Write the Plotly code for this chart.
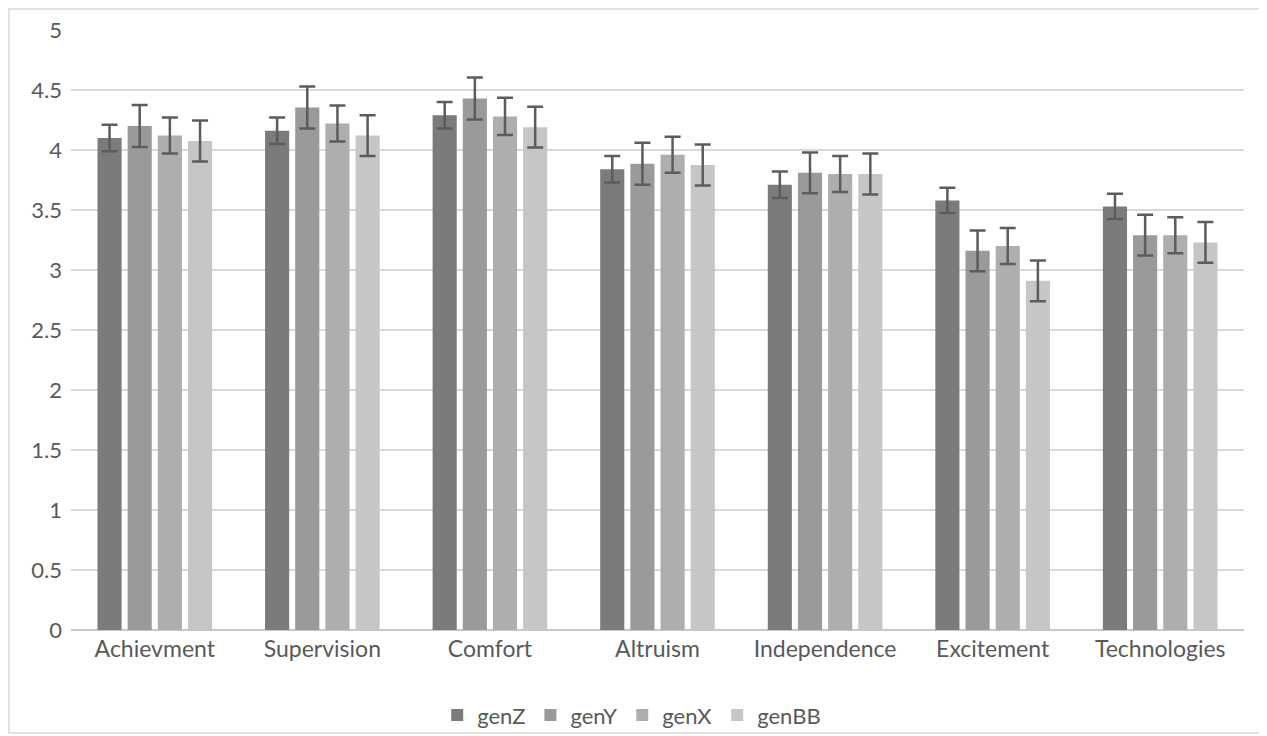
import plotly.graph_objects as go

categories = ["Achievment", "Supervision", "Comfort", "Altruism", "Independence", "Excitement", "Technologies"]
series_names = ["genZ", "genY", "genX", "genBB"]

genZ = [4.10, 4.16, 4.29, 3.84, 3.71, 3.58, 3.53]
genY = [4.20, 4.355, 4.43, 3.885, 3.81, 3.16, 3.29]
genX = [4.12, 4.22, 4.28, 3.96, 3.80, 3.20, 3.29]
genBB = [4.075, 4.12, 4.19, 3.875, 3.80, 2.91, 3.23]

err_genZ = [0.11, 0.11, 0.11, 0.11, 0.11, 0.105, 0.105]
err_genY = [0.175, 0.175, 0.175, 0.175, 0.17, 0.17, 0.17]
err_genX = [0.15, 0.15, 0.155, 0.15, 0.15, 0.15, 0.15]
err_genBB = [0.17, 0.17, 0.17, 0.17, 0.17, 0.17, 0.17]

colors = ["#7b7b7e", "#9a9a9d", "#aeaeb0", "#c6c6c8"]
values = [genZ, genY, genX, genBB]
errors = [err_genZ, err_genY, err_genX, err_genBB]

fig = go.Figure()
for name, vals, errs, col in zip(series_names, values, errors, colors):
    fig.add_trace(go.Bar(
        x=categories, y=vals, name=name, marker_color=col, marker_line_width=0,
        error_y=dict(type="data", array=errs, visible=True, color="#5c5c5e", thickness=2.5, width=8),
    ))

font_family = "Lato, 'Open Sans', sans-serif"
W, H = 1259, 728
L, R, T, B = 63, 23, 22, 106
pw, ph = W - L - R, H - T - B
fig.update_layout(
    barmode="group", bargap=0.28, bargroupgap=0.2,
    width=W, height=H,
    margin=dict(l=L, r=R, t=T, b=B, autoexpand=False),
    paper_bgcolor="white", plot_bgcolor="white",
    font=dict(family=font_family, size=20, color="#595959"),
    showlegend=True,
    legend=dict(orientation="h", x=0.478, xanchor="center", y=-0.142, yanchor="middle",
                bgcolor="rgba(0,0,0,0)",
                font=dict(size=22, color="#595959"), traceorder="normal"),
    xaxis=dict(showgrid=False, showline=False, ticks="", tickfont=dict(size=23),
               ticklabelstandoff=3, automargin=False),
    yaxis=dict(range=[0, 5], dtick=0.5, showgrid=True, gridcolor="#d9d9d9", gridwidth=1.5,
               zeroline=True, zerolinecolor="#c8c8c8", zerolinewidth=2,
               showline=False, ticks="", tickfont=dict(size=22), ticklabelstandoff=8,
               automargin=False),
    shapes=[dict(type="rect", xref="paper", yref="paper",
                 x0=(1 - L) / pw, x1=(W - 5 - L) / pw,
                 y0=-(B - 3) / ph, y1=(T - 1) / ph + 1,
                 line=dict(color="#d9d9d9", width=1.5), fillcolor="rgba(0,0,0,0)", layer="below")],
)

fig.write_html("out.html")
